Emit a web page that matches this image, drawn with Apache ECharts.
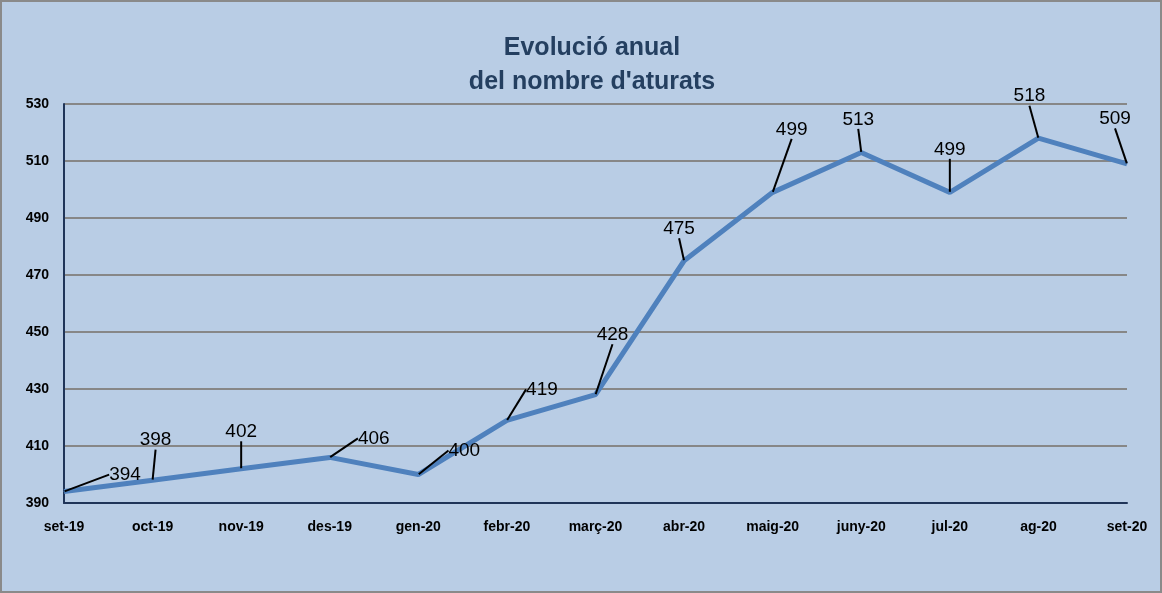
<!DOCTYPE html>
<html>
<head>
<meta charset="utf-8">
<script src="https://cdn.jsdelivr.net/npm/echarts@6/dist/echarts.min.js"></script>
<style>
html,body{margin:0;padding:0;background:#B9CDE5;}
#c{width:1162px;height:593px;box-sizing:border-box;border:2px solid #8a8a8a;}
</style>
</head>
<body>
<div id="c"></div>
<script>
const categories = ['set-19','oct-19','nov-19','des-19','gen-20','febr-20','març-20','abr-20','maig-20','juny-20','jul-20','ag-20','set-20'];
const values = [394,398,402,406,400,419,428,475,499,513,499,518,509];
const yTicks = {min:390, max:530, interval:20};
const titleText = "Evolució anual\ndel nombre d'aturats";
// label offsets (styling) relative to the point
const labelOffsets = [[61,-17],[3,-40],[0,-37],[44,-19],[46,-24],[35,-31],[17,-60],[-5,-32],[19,-63],[-3,-33],[0,-43],[-9,-42],[-12,-45]];

const chart = echarts.init(document.getElementById('c'));
chart.setOption({
  backgroundColor:'#B9CDE5',
  animation:false,
  title:{
    text:titleText,
    left:585, top:24, textAlign:'center',
    textStyle:{fontFamily:'Liberation Sans', fontWeight:'bold', fontSize:25, color:'#243F60', lineHeight:34}
  },
  grid:{left:62, right:33, top:102, bottom:88},
  xAxis:{
    type:'category', data:categories, boundaryGap:false,
    axisLine:{lineStyle:{color:'#1F3458', width:2}},
    axisTick:{show:false},
    axisLabel:{color:'#000', fontWeight:'bold', fontSize:14, fontFamily:'Liberation Sans', margin:17, interval:0},
    splitLine:{show:false}
  },
  yAxis:{
    type:'value', min:yTicks.min, max:yTicks.max, interval:yTicks.interval,
    axisLine:{show:true, lineStyle:{color:'#1F3458', width:2}},
    axisTick:{show:false},
    axisLabel:{color:'#000', fontWeight:'bold', fontSize:14, fontFamily:'Liberation Sans', margin:15},
    splitLine:{lineStyle:{color:'#878787', width:2}}
  },
  series:[{
    type:'line', data:values,
    symbol:'circle', symbolSize:1, showSymbol:true,
    lineStyle:{color:'#4F81BD', width:5},
    itemStyle:{color:'#4F81BD'},
    label:{show:true, position:'inside', color:'#000', fontSize:19, fontFamily:'Liberation Sans'},
    labelLine:{show:true, lineStyle:{color:'#000', width:2}},
    labelLayout:function(p){
      const o = labelOffsets[p.dataIndex];
      return {dx:o[0], dy:o[1]};
    }
  }]
});
</script>
</body>
</html>
